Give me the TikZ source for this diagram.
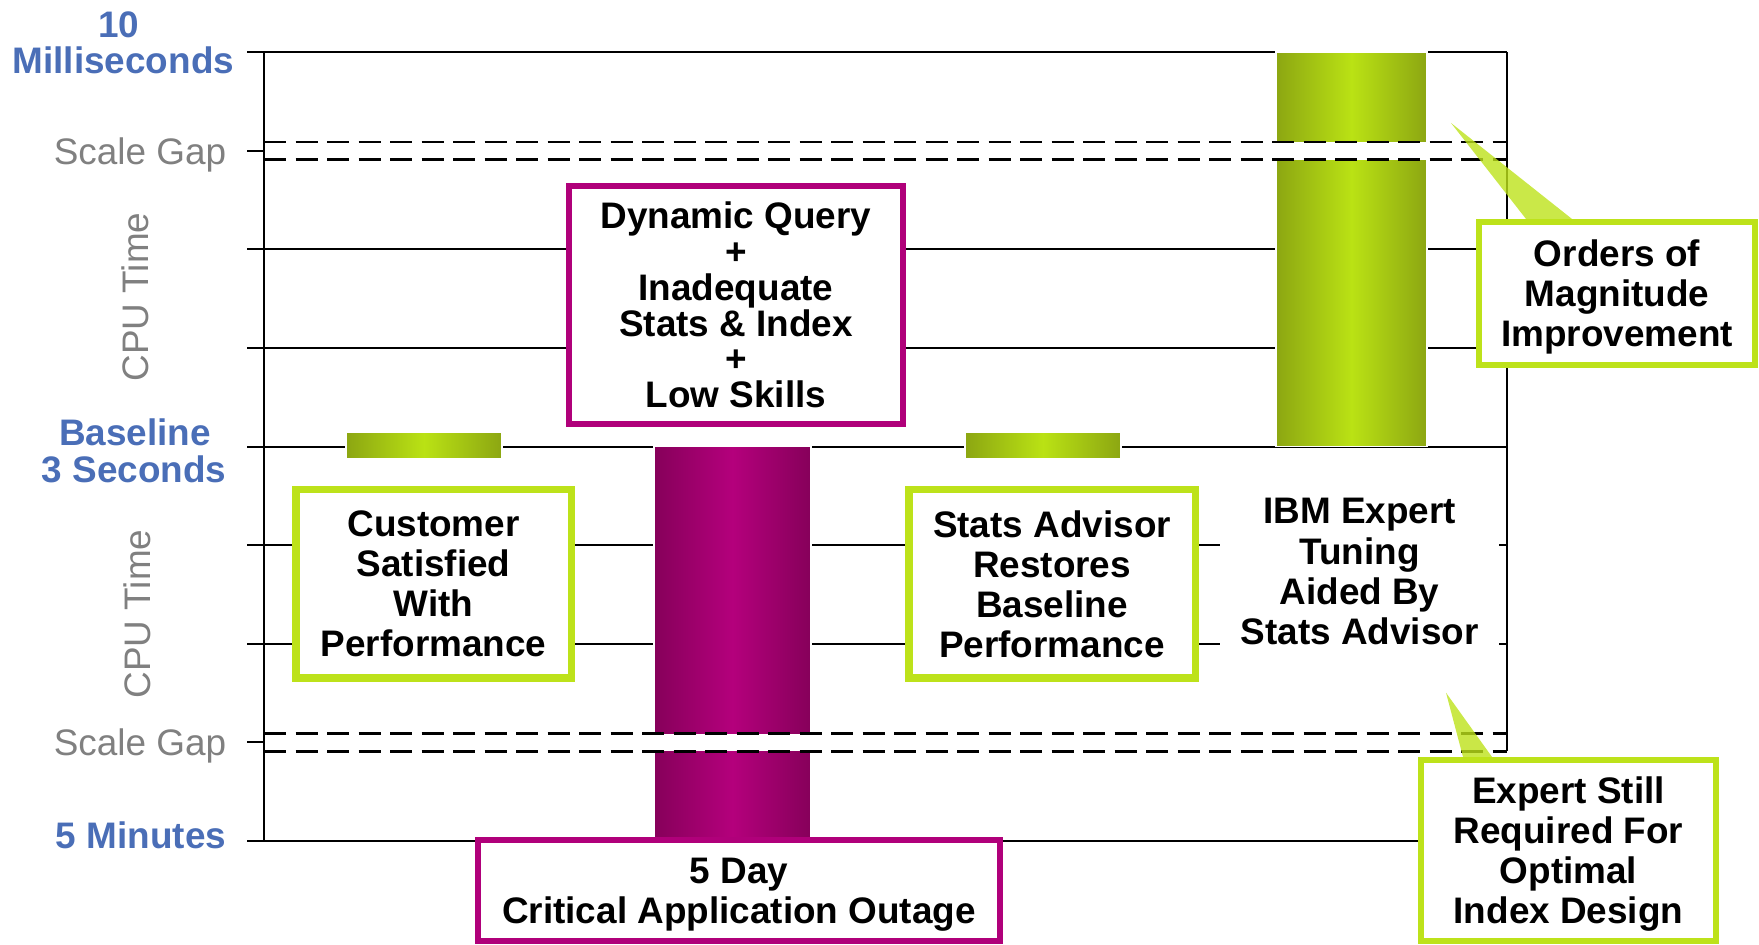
\documentclass[tikz,border=0pt]{standalone}
\usepackage{fontspec}
\setmainfont{Liberation Sans}
\usetikzlibrary{positioning}

\definecolor{limeline}{RGB}{189,226,26}
\definecolor{berry}{RGB}{176,0,122}
\definecolor{grdark}{RGB}{140,166,18}
\definecolor{grlight}{RGB}{186,226,20}
\definecolor{mgdark}{RGB}{134,0,90}
\definecolor{mglight}{RGB}{180,0,124}
\definecolor{axisblue}{RGB}{74,110,183}
\definecolor{gaptext}{RGB}{128,128,128}

\newcommand{\chartfont}{\bfseries\fontsize{10.5}{11.4}\selectfont}

\begin{document}
\begin{tikzpicture}[y=0.986cm,
  gridline/.style={line width=0.6pt},
  axisline/.style={line width=0.7pt},
  gapline/.style={line width=0.8pt, dash pattern=on 2.2mm off 0.95mm},
  greenbar/.style={left color=grdark, right color=grdark, middle color=grlight, draw=white, line width=0.4pt},
  pinkbar/.style={left color=mgdark, right color=mgdark, middle color=mglight, draw=white, line width=0.4pt},
  greenbox/.style={draw=limeline, line width=0.75mm, fill=white, align=center, font=\chartfont},
  callbox/.style={greenbox, line width=0.6mm},
  pinkbox/.style={draw=berry, line width=0.6mm, fill=white, align=center, font=\chartfont},
  tail/.style={fill=limeline, fill opacity=0.8},
  bluelabel/.style={anchor=base, text=axisblue, font=\bfseries\fontsize{10.5}{12}\selectfont},
  greylabel/.style={anchor=base, text=gaptext, font=\fontsize{10.5}{12}\selectfont},
]
\useasboundingbox (-2.64,-1.0446) rectangle (14.95,8.5294);

\foreach \lev in {0,2,3,4,5,6,8}
  \draw [gridline] (-0.17,\lev) -- (12.43,\lev);
\foreach \lev in {1,7}
  \draw [gridline] (-0.17,\lev) -- (0,\lev);

\path [greenbar] (0.82,3.874) rectangle (2.38,4.148);
\path [pinkbar] (3.90,0) rectangle (5.47,4);
\path [greenbar] (7.01,3.874) rectangle (8.57,4.148);
\path [greenbar] (10.12,4) rectangle (11.63,8);

% scale gaps
\fill [white] (0.02,6.91) rectangle (12.41,7.09);
\fill [white] (0.02,0.91) rectangle (12.41,1.09);
\draw [gapline] (0,7.09) -- (12.43,7.09);
\draw [gapline] (0,6.91) -- (12.43,6.91);
\draw [gapline] (0,1.09) -- (12.43,1.09);
\draw [gapline] (0,0.91) -- (12.43,0.91);

\draw [axisline] (0,0) -- (0,8);
\draw [axisline] (12.43,8) -- (12.43,0.91);

\node (S-1) at (1.695,2.607) [greenbox, minimum width=2.755cm, minimum height=1.885cm]{Customer\\Satisfied\\With\\Performance};
\node (S-2) at (7.88,2.607) [greenbox, minimum width=2.865cm, minimum height=1.885cm]{Stats Advisor\\Restores\\Baseline\\Performance};
\node (E-1) at (10.955,2.733) [fill=white, align=center, font=\chartfont, minimum width=2.79cm, minimum height=1.75cm]{IBM Expert\\Tuning\\Aided By\\Stats Advisor};

\node (P-1) at (4.72,5.436) [pinkbox, minimum width=3.34cm, minimum height=2.38cm, font=\bfseries\fontsize{10.5}{10.16}\selectfont]{Dynamic Query\\+\\Inadequate\\Stats \& Index\\+\\Low Skills};
\node (P-2) at (4.75,-0.502) [pinkbox, minimum width=5.22cm, minimum height=1.01cm, text depth=0pt]{5 Day\\Critical Application Outage};

\node (E-2) at (13.53,5.553) [callbox, minimum width=2.76cm, minimum height=1.43cm, text depth=0pt]{Orders of\\Magnitude\\Improvement};
\node (E-3) at (13.045,-0.096) [callbox, minimum width=2.95cm, minimum height=1.81cm, text depth=0pt]{Expert Still\\Required For\\Optimal\\Index Design};

\coordinate (T-2) at (11.87,7.282);
\coordinate (T-3) at (11.82,1.504);
\fill [tail] (T-2) -- ([xshift=0.50cm]E-2.north west) -- ([xshift=0.96cm]E-2.north west) -- cycle;
\fill [tail] (T-3) -- ([xshift=0.45cm]E-3.north west) -- ([xshift=0.74cm]E-3.north west) -- cycle;

% axis labels
\node (L-1) at (-1.45,8.154) [bluelabel]{10};
\node (L-2) at (-1.406,7.789) [bluelabel]{Milliseconds};
\node (L-3) at (-1.24,6.856) [greylabel]{Scale Gap};
\node (L-4) at (-1.285,5.517) [greylabel, anchor=center, rotate=90]{CPU Time};
\node (L-5) at (-1.29,4.016) [bluelabel]{Baseline};
\node (L-6) at (-1.30,3.631) [bluelabel]{3 Seconds};
\node (L-7) at (-1.265,2.302) [greylabel, anchor=center, rotate=90]{CPU Time};
\node (L-8) at (-1.24,0.872) [greylabel]{Scale Gap};
\node (L-9) at (-1.23,-0.071) [bluelabel]{5 Minutes};

\end{tikzpicture}
\end{document}
